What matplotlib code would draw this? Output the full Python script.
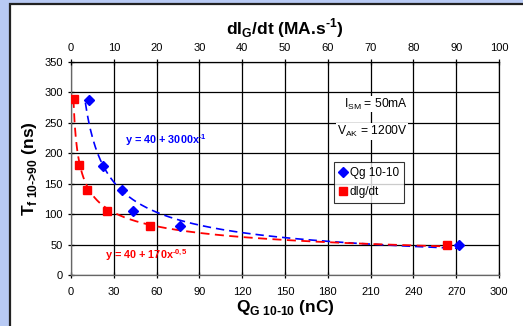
import numpy as np
import matplotlib.pyplot as plt
from matplotlib.patches import Rectangle
from matplotlib.lines import Line2D

plt.rcParams['font.family'] = ['Liberation Sans', 'DejaVu Sans']
plt.rcParams['mathtext.fontset'] = 'custom'
plt.rcParams['mathtext.rm'] = 'Liberation Sans:bold'
plt.rcParams['mathtext.bf'] = 'Liberation Sans:bold'
plt.rcParams['mathtext.sf'] = 'Liberation Sans'

# Qg 10-10 (nC) vs fall time (ns)
qg_x = [12.6, 22.6, 35.7, 43.7, 76.4, 272]
qg_y = [288, 179, 139, 105, 80, 50]
# dIg/dt (MA/s, top axis) vs fall time (ns)
didt_x = [0.7, 1.9, 3.8, 8.4, 18.4, 87.8]
didt_y = [290, 180, 140, 105, 80, 50]

qg_fit = r"y = 40 + 3000x$^{\text{-1}}$"
didt_fit = r"y = 40 + 170x$^{\text{-0,5}}$"

fig = plt.figure(figsize=(5.23, 3.26), dpi=100)
fig.patch.set_facecolor('white')
# blue slide background strip + frame
fig.patches.append(Rectangle((0, 0), 1, 1, transform=fig.transFigure,
                             facecolor='#b8caf4', edgecolor='none', zorder=-3))
fig.patches.append(Rectangle((10/523, -0.2), 1.2, 1.2 - 4/326, transform=fig.transFigure,
                             facecolor='white', edgecolor='#222222', lw=1.6, zorder=-2))

ax = fig.add_axes([71/523, 1 - 275/326, 428/523, 213/326])
ax.set_xlim(0, 300)
ax.set_ylim(0, 350)
ax.set_xticks(np.arange(0, 301, 30))
ax.set_yticks(np.arange(0, 351, 50))
ax.grid(True, color='black', lw=0.9)
ax.set_axisbelow(True)
for s in ax.spines.values():
    s.set_color('black')
    s.set_linewidth(0.9)
ax.spines['bottom'].set_color('#666666')
ax.spines['left'].set_color('#666666')
ax.tick_params(direction='inout', length=5, width=0.9, labelsize=8, colors='black')
ax.tick_params(axis='x', pad=6)

# power-law trendlines (log-log fit, like Excel)
def powerfit(x, y, start):
    b, a = np.polyfit(np.log(x), np.log(y), 1)
    xs = np.linspace(min(x) * start, max(x), 300)
    return xs, np.exp(a) * xs ** b

xs, ys = powerfit(qg_x, qg_y, 0.8)
ax.plot(xs, ys, color='#0000ff', lw=1.2, dashes=(5, 3))
xs, ys = powerfit(didt_x, didt_y, 0.8)
ax.plot(np.array(xs) * 3, ys, color='#ff0000', lw=1.3, dashes=(5, 3))

ax.plot(qg_x, qg_y, 'D', color='#0000ff', ms=4.8, ls='none', zorder=5)
ax.plot(np.array(didt_x) * 3, didt_y, 's', color='#ff0000', ms=5.8, ls='none', zorder=5)

ax.text(38, 222, qg_fit, color='#0000ff', fontsize=7.8, fontweight='bold', va='center')
ax.text(24, 32, didt_fit, color='#ff0000', fontsize=7.8, fontweight='bold', va='center')
ax.text(214, 281, r'I$_{\mathsf{SM}}$ = 50mA', fontsize=8.7, ha='center', va='center',
        bbox=dict(facecolor='white', edgecolor='none', pad=0.5))
ax.text(211, 236, r'V$_{\mathsf{AK}}$ = 1200V', fontsize=8.7, ha='center', va='center',
        bbox=dict(facecolor='white', edgecolor='none', pad=0.5))

handles = [Line2D([], [], marker='D', color='#0000ff', ls='none', ms=5),
           Line2D([], [], marker='s', color='#ff0000', ls='none', ms=6)]
leg = ax.legend(handles, ['Qg 10-10', 'dIg/dt'], loc='upper left',
                bbox_to_anchor=((334 - 71) / 428, (275 - 162) / 213), fontsize=8.5,
                frameon=True, fancybox=False, handlelength=0.6, handletextpad=0.3,
                borderpad=0.45, labelspacing=0.55, borderaxespad=0)
leg.get_frame().set_edgecolor('black')
leg.get_frame().set_linewidth(0.8)

ax.set_xlabel(r'Q$_{\text{G 10-10}}$ (nC)', fontsize=12.5, fontweight='bold', labelpad=1)
ax.set_ylabel(r'T$_{\text{f 10->90}}$ (ns)', fontsize=12.5, fontweight='bold', labelpad=4)

top = ax.twiny()
top.set_xlim(0, 100)
top.set_xticks(np.arange(0, 101, 10))
top.tick_params(direction='inout', length=5, width=0.9, labelsize=8, pad=4)
for s in top.spines.values():
    s.set_visible(False)
top.set_xlabel(r'dI$_{\text{G}}$/dt (MA.s$^{\text{-1}}$)', fontsize=12.5,
               fontweight='bold', labelpad=6)

fig.savefig('out.png', dpi=100)
